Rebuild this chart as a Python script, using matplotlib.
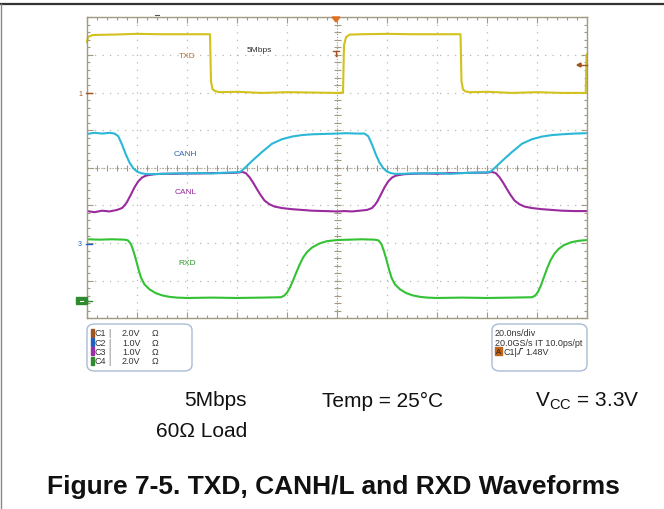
import matplotlib
matplotlib.use("Agg")
import matplotlib.pyplot as plt
from matplotlib.patches import FancyBboxPatch, Rectangle, Polygon
from matplotlib.lines import Line2D
import numpy as np

plt.rcParams['font.family'] = ['Liberation Sans', 'DejaVu Sans']
plt.rcParams['mathtext.fontset'] = 'custom'
plt.rcParams['mathtext.rm'] = 'Liberation Sans'

W, H = 664, 510

# ---- waveforms: time (ns), screen position (divisions, 0 = bottom, 8 = top) ----
txd_t = [0, 0.4, 2.4, 10, 20, 30, 40, 49.2, 49.6, 50.2, 51.2, 53, 60, 70, 80, 90, 100,
         102.4, 102.8, 103.6, 105, 110, 120, 130, 140, 149.4, 149.8, 150.4, 151.4, 153,
         160, 170, 180, 190, 199.5, 199.8, 200]
txd_v = [7.34, 7.48, 7.53, 7.54, 7.56, 7.55, 7.55, 7.55, 6.30, 6.09, 6.04, 6.01, 6.02, 5.99,
         6.01, 6.00, 5.99, 6.00, 7.25, 7.47, 7.54, 7.55, 7.56, 7.55, 7.55, 7.55, 6.30, 6.08,
         6.03, 6.01, 6.02, 5.99, 6.01, 5.99, 5.99, 7.00, 7.02]

canh_t = [0, 3, 6, 9, 11, 12.5, 14, 15.5, 17, 18.5, 20, 21.5, 23, 26, 30, 35, 40, 45, 50,
          55, 60, 61.5, 63, 66, 70, 74, 78, 82, 86, 90, 95, 100, 104, 108, 111, 112.5, 114,
          115.5, 117, 118.5, 120, 121.5, 123, 126, 130, 135, 140, 145, 150, 155, 160, 161.5,
          163, 166, 170, 174, 178, 182, 186, 190, 195, 200]
canh_v = [4.90, 4.93, 4.91, 4.93, 4.91, 4.84, 4.62, 4.36, 4.14, 3.99, 3.90, 3.86, 3.84,
          3.83, 3.84, 3.85, 3.85, 3.86, 3.85, 3.87, 3.88, 3.90, 3.99, 4.18, 4.42, 4.64, 4.76,
          4.83, 4.87, 4.89, 4.90, 4.91, 4.92, 4.91, 4.91, 4.84, 4.62, 4.36, 4.14, 3.99, 3.90,
          3.86, 3.84, 3.84, 3.85, 3.85, 3.86, 3.84, 3.86, 3.87, 3.88, 3.90, 3.99, 4.18, 4.42,
          4.64, 4.76, 4.83, 4.87, 4.89, 4.91, 4.92]

canl_t = [0, 3, 6, 9, 12, 14, 15, 16, 17.5, 19, 20.5, 22, 23.5, 25, 27, 30, 35, 40, 45, 50,
          55, 60, 62, 63.5, 65, 66.5, 68, 69.5, 71, 73, 75, 78, 82, 86, 90, 95, 100, 103, 106,
          109, 112, 114, 115, 116, 117.5, 119, 120.5, 122, 123.5, 125, 127, 130, 135, 140,
          145, 150, 155, 160, 162, 163.5, 165, 166.5, 168, 169.5, 171, 173, 175, 178, 182,
          186, 190, 195, 200]
canl_v = [2.85, 2.82, 2.86, 2.84, 2.88, 2.93, 3.00, 3.09, 3.28, 3.48, 3.64, 3.74, 3.79,
          3.81, 3.83, 3.84, 3.84, 3.85, 3.85, 3.86, 3.86, 3.87, 3.89, 3.86, 3.75, 3.60, 3.43,
          3.27, 3.13, 3.03, 2.97, 2.93, 2.90, 2.88, 2.86, 2.85, 2.84, 2.85, 2.84, 2.86, 2.88,
          2.93, 3.00, 3.09, 3.28, 3.48, 3.64, 3.74, 3.79, 3.81, 3.83, 3.84, 3.85, 3.84, 3.86,
          3.86, 3.87, 3.87, 3.89, 3.86, 3.75, 3.60, 3.43, 3.27, 3.13, 3.03, 2.97, 2.93, 2.90,
          2.88, 2.86, 2.85, 2.85]

rxd_t = [0, 5, 10, 15, 16.4, 17.6, 18.6, 19.6, 20.6, 21.6, 23, 25, 27.5, 30, 33, 36, 40, 50,
         60, 70, 77.6, 78.8, 80, 81.2, 82.4, 83.6, 85, 86.5, 88, 90, 93, 96, 100, 105, 110,
         115, 116.6, 117.8, 118.8, 119.8, 120.8, 121.8, 123.2, 125.2, 127.7, 130.2, 133.2,
         136.2, 140, 150, 160, 170, 178, 179.2, 180.4, 181.6, 182.8, 184, 185.4, 187, 188.6,
         190.6, 193.6, 196.6, 200]
rxd_v = [2.10, 2.09, 2.10, 2.09, 2.07, 1.97, 1.78, 1.55, 1.30, 1.08, 0.90, 0.77, 0.67, 0.61,
         0.57, 0.55, 0.54, 0.55, 0.54, 0.55, 0.56, 0.60, 0.68, 0.82, 1.00, 1.20, 1.42, 1.62,
         1.76, 1.88, 1.99, 2.05, 2.08, 2.09, 2.10, 2.09, 2.07, 1.97, 1.78, 1.55, 1.30, 1.08,
         0.90, 0.77, 0.67, 0.61, 0.57, 0.55, 0.54, 0.55, 0.54, 0.55, 0.56, 0.60, 0.70, 0.88,
         1.10, 1.32, 1.54, 1.72, 1.84, 1.94, 2.02, 2.06, 2.08]

channel_rows = [("C1", "2.0V", "#a0521f"), ("C2", "1.0V", "#1f5fbf"),
                ("C3", "1.0V", "#9b2fa8"), ("C4", "2.0V", "#2e8b2e")]
scope_info = ["20.0ns/div", "20.0GS/s IT 10.0ps/pt"]


def fx(x):
    return x / W


def fy(y):
    return 1 - y / H


fig = plt.figure(figsize=(W / 100, H / 100), dpi=100)

# page frame (top and left rule)
fig.add_artist(Line2D([0, 1], [fy(5), fy(5)], color="#333333", lw=1.6))
fig.add_artist(Line2D([fx(1), fx(1)], [fy(5), 0], color="#888888", lw=1.0))

# ---- scope screen ----
x0, x1, y0, y1 = 87, 587, 18.3, 319.3
ax = fig.add_axes([fx(x0), fy(y1), (x1 - x0) / W, (y1 - y0) / H])
ax.set_xlim(0, 200)
ax.set_ylim(0, 8)
frame_col = "#a39a84"
for s in ax.spines.values():
    s.set_color(frame_col)
    s.set_linewidth(1.0)
ax.set_xticks(np.arange(0, 201, 20))
ax.set_yticks(np.arange(0, 9, 1))
ax.set_xticks(np.arange(0, 201, 4), minor=True)
ax.set_yticks(np.arange(0, 8.01, 0.2), minor=True)
ax.tick_params(which="both", direction="in", top=True, right=True,
               labelbottom=False, labelleft=False, color=frame_col, width=0.8)
ax.tick_params(which="major", length=4)
ax.tick_params(which="minor", length=2.5)
ax.grid(which="major", color="#b8b8b8", linestyle=(0, (1, 5)), lw=0.9)

# centre cross with ticks
ax.axhline(4, color=frame_col, lw=0.8, linestyle=(0, (1, 1.5)))
ax.axvline(100, color=frame_col, lw=0.8, linestyle=(0, (1, 1.5)))
ct = np.arange(0, 201, 4)
ax.vlines(ct, 4 - 0.08, 4 + 0.08, color=frame_col, lw=0.8)
cy = np.arange(0, 8.01, 0.2)
ax.hlines(cy, 100 - 1.4, 100 + 1.4, color=frame_col, lw=0.8)

ax.plot(txd_t, txd_v, color="#d2c21c", lw=1.5, clip_on=False)
ax.plot(canl_t, canl_v, color="#9a2a9e", lw=1.5)
ax.plot(canh_t, canh_v, color="#2ab8d6", lw=1.5)
ax.plot(rxd_t, rxd_v, color="#33c233", lw=1.5)

lab = dict(fontsize=6, ha="center", va="center")
ax.text(40, 6.98, "TXD", color="#b0703a", **lab)
ax.text(69, 7.15, "5Mbps", color="#333333", **lab)
ax.text(39.5, 4.39, "CANH", color="#3567b0", **lab)
ax.text(39.5, 3.38, "CANL", color="#9a2a9e", **lab)
ax.text(40, 1.48, "RXD", color="#2e9a2e", **lab)

# channel / trigger markers
fig.text(fx(80), fy(94), "1", fontsize=5, color="#a0521f", ha="center", va="center")
fig.add_artist(Line2D([fx(86), fx(92)], [fy(94), fy(94)], color="#a0521f", lw=1))
fig.text(fx(80), fy(245), "3", fontsize=5, color="#1f5fbf", ha="center", va="center")
fig.add_artist(Line2D([fx(86), fx(92)], [fy(245), fy(245)], color="#1f5fbf", lw=1))
fig.add_artist(Rectangle((fx(76), fy(305)), 11 / W, 7 / H, color="#2e8b2e"))
fig.add_artist(Line2D([fx(80), fx(83)], [fy(301.5), fy(301.5)], color="white", lw=0.8))
fig.add_artist(Line2D([fx(87), fx(92)], [fy(301.5), fy(301.5)], color="#2e8b2e", lw=1))
fig.add_artist(Line2D([fx(578), fx(587)], [fy(66), fy(66)], color="#a0521f", lw=1))
fig.add_artist(Polygon([[fx(577), fy(66)], [fx(581), fy(64)], [fx(581), fy(68)]],
                       color="#a0521f"))
fig.add_artist(Polygon([[fx(332), fy(18)], [fx(340), fy(18)], [fx(336), fy(23)]],
                       color="#e07020"))
fig.add_artist(Line2D([fx(333), fx(339)], [fy(52), fy(52)], color="#a0521f", lw=1))
fig.add_artist(Line2D([fx(336), fx(336)], [fy(52), fy(57)], color="#a0521f", lw=1))
fig.add_artist(Line2D([fx(155), fx(159)], [fy(15.5), fy(15.5)], color="#555555", lw=0.8))

# ---- info boxes ----
box_kw = dict(boxstyle="round,pad=0,rounding_size=0.012", fc="white", ec="#a9bcd4", lw=1.0,
              transform=fig.transFigure)
fig.add_artist(FancyBboxPatch((fx(87), fy(372)), 105 / W, 47 / H, **box_kw))
fig.add_artist(FancyBboxPatch((fx(492), fy(372)), 95 / W, 47 / H, **box_kw))

row_y = [334, 343.2, 352.4, 361.6]
for (name, volts, col), yy in zip(channel_rows, row_y):
    fig.add_artist(Rectangle((fx(90.5), fy(yy + 4)), 3 / W, 8 / H, color=col))
    fig.text(fx(94), fy(yy), name, fontsize=6.5, color="#333333", va="center")
    fig.text(fx(108.5), fy(yy), "|", fontsize=6.5, color="#777777", va="center")
    fig.text(fx(122), fy(yy), volts, fontsize=6.5, color="#333333", va="center")
    fig.text(fx(151.5), fy(yy), "Ω", fontsize=6.5, color="#333333", va="center")

for txt, yy in zip(scope_info, row_y[:2]):
    fig.text(fx(495), fy(yy), txt, fontsize=6.5, color="#333333", va="center")
fig.add_artist(Rectangle((fx(495), fy(356)), 7 / W, 8 / H, color="#c0651a"))
fig.text(fx(498.5), fy(352.2), "A", fontsize=5.5, color="#222222", ha="center", va="center")
fig.text(fx(503), fy(352.4), "C1|", fontsize=6.5, color="#333333", va="center")
fig.add_artist(Line2D([fx(517), fx(519), fx(520.5), fx(522.5)],
                      [fy(355), fy(355), fy(349.5), fy(349.5)], color="#333333", lw=0.7))
fig.text(fx(525), fy(352.4), "1.48V", fontsize=6.5, color="#333333", va="center")

# ---- conditions and caption ----
cond = dict(fontsize=15, color="#111111", va="center")
fig.text(fx(247), fy(401), "5Mbps", ha="right", **cond)
fig.text(fx(322), fy(401), "Temp = 25°C", ha="left", **cond)
fig.text(fx(535), fy(401), r"V$_{\rm CC}$ = 3.3V", ha="left", **cond)
fig.text(fx(247), fy(432), "60Ω Load", ha="right", **cond)
fig.text(fx(333), fy(487), "Figure 7-5. TXD, CANH/L and RXD Waveforms", fontsize=19,
         fontweight="bold", color="#111111", ha="center", va="center")

fig.savefig("out.png", dpi=100)
